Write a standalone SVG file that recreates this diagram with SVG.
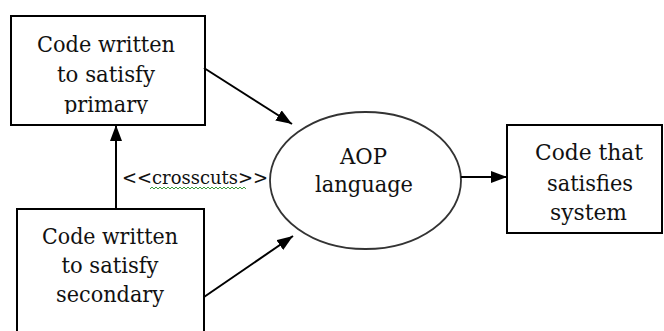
<svg xmlns="http://www.w3.org/2000/svg" width="664" height="331" viewBox="0 0 664 331">
<defs>
<style>
.box{fill:#fff;stroke:#000;stroke-width:2}
.ell{fill:#fff;stroke:#333;stroke-width:1.8}
.t{font-size:22px;fill:#111;text-anchor:middle}
.lbl{font-size:19px;fill:#111}
.c{stroke:#000;stroke-width:2;fill:none;marker-end:url(#ah)}
</style>
<marker id="ah" markerUnits="userSpaceOnUse" markerWidth="16" markerHeight="12" refX="16" refY="6" orient="auto">
<path d="M0,0 L16,6 L0,12 z" fill="#000"/>
</marker>
<clipPath id="clip1"><rect x="11" y="16" width="194" height="98"/></clipPath>
</defs>
<g font-family="DejaVu Serif, serif">
<g id="primary">
<rect class="box" x="11" y="16" width="194" height="109"/>
<g clip-path="url(#clip1)">
<text class="t" x="106" y="52" textLength="138" lengthAdjust="spacingAndGlyphs">Code written</text>
<text class="t" x="106" y="82" textLength="98" lengthAdjust="spacingAndGlyphs">to satisfy</text>
<text class="t" x="106" y="112" textLength="84" lengthAdjust="spacingAndGlyphs">primary</text>
</g>
</g>
<g id="secondary">
<rect class="box" x="17" y="209" width="187" height="130"/>
<text class="t" x="110" y="244" textLength="136" lengthAdjust="spacingAndGlyphs">Code written</text>
<text class="t" x="110" y="273" textLength="97" lengthAdjust="spacingAndGlyphs">to satisfy</text>
<text class="t" x="110" y="302" textLength="108" lengthAdjust="spacingAndGlyphs">secondary</text>
</g>
<g id="aop">
<ellipse class="ell" cx="365.5" cy="180.5" rx="95.5" ry="68.5"/>
<text class="t" x="363.5" y="164" textLength="47" lengthAdjust="spacingAndGlyphs">AOP</text>
<text class="t" x="364" y="192" textLength="98" lengthAdjust="spacingAndGlyphs">language</text>
</g>
<g id="system">
<rect class="box" x="507" y="125" width="155" height="108"/>
<text class="t" x="589" y="160" textLength="108" lengthAdjust="spacingAndGlyphs">Code that</text>
<text class="t" x="590" y="191" textLength="86" lengthAdjust="spacingAndGlyphs">satisfies</text>
<text class="t" x="588.5" y="220" textLength="77" lengthAdjust="spacingAndGlyphs">system</text>
</g>
<g id="connectors">
<line class="c" x1="204" y1="68" x2="292" y2="124"/>
<line class="c" x1="204" y1="297" x2="293" y2="236"/>
<line class="c" x1="116" y1="209" x2="116" y2="125"/>
<line class="c" x1="461" y1="177" x2="507" y2="177"/>
<text class="lbl" x="122" y="184" textLength="146" lengthAdjust="spacingAndGlyphs">&lt;&lt;crosscuts&gt;&gt;</text>
<path d="M150,189 l2,-2 l2,2 l2,-2 l2,2 l2,-2 l2,2 l2,-2 l2,2 l2,-2 l2,2 l2,-2 l2,2 l2,-2 l2,2 l2,-2 l2,2 l2,-2 l2,2 l2,-2 l2,2 l2,-2 l2,2 l2,-2 l2,2 l2,-2 l2,2 l2,-2 l2,2 l2,-2 l2,2 l2,-2 l2,2 l2,-2 l2,2 l2,-2 l2,2 l2,-2 l2,2 l2,-2 l2,2 l2,-2 l2,2 l2,-2 l2,2 l2,-2 l2,2 l2,-2 l2,2" fill="none" stroke="#3c9a3c" stroke-width="1"/>
</g>
</g>
</svg>
